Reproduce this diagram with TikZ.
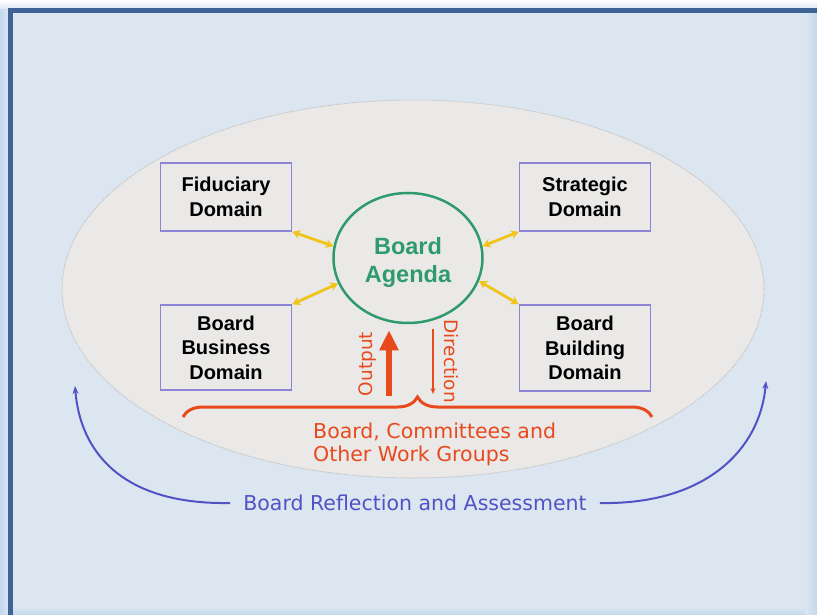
\documentclass[tikz,border=0pt]{standalone}
\usepackage{fontspec}
\setmainfont{Liberation Sans}
\newfontfamily\vfont{DejaVu Sans}
\usetikzlibrary{arrows.meta,shapes.geometric,decorations.pathreplacing}
\definecolor{framebg}{HTML}{DCE6F1}
\definecolor{frameline}{HTML}{3E6394}
\definecolor{glowblue}{HTML}{C3D8EE}
\definecolor{ovalfill}{HTML}{EAE9E7}
\definecolor{ovalline}{HTML}{C2C2C2}
\definecolor{boxline}{HTML}{8E84D6}
\definecolor{agendagreen}{HTML}{2F9A6C}
\definecolor{linkyellow}{HTML}{F0C419}
\definecolor{groupred}{HTML}{E8491D}
\definecolor{reflblue}{HTML}{5252C4}
\tikzset{
  domainbox/.style={draw=boxline, line width=1.5pt, minimum width=131pt, align=center,
    inner sep=0pt, font=\fontsize{20}{24.5}\selectfont\bfseries},
  link/.style={linkyellow, line width=2.8pt, {Stealth[length=8pt,width=9pt]}-{Stealth[length=8pt,width=9pt]}},
  redtext/.style={text=groupred, font=\vfont\fontsize{20.5}{23}\selectfont},
}
\begin{document}
\begin{tikzpicture}[x=1pt,y=-1pt]
 % frame and background
 \useasboundingbox (0,0) rectangle (817,615);
 \fill[framebg] (0,0) rectangle (817,615);
 \shade[left color=glowblue, right color=framebg] (0,0) rectangle (9,615);
 \shade[top color=white, bottom color=framebg] (0,0) rectangle (817,9);
 \shade[left color=framebg, right color=glowblue] (805,12) rectangle (817,615);
 \shade[top color=framebg, bottom color=glowblue] (12,607) rectangle (805,615);
 \draw[frameline, line width=5pt] (10.5,615) -- (10.5,10.5) -- (817,10.5);
 % the oval
 \draw[ovalline, fill=ovalfill, line width=1pt, densely dotted] (413,289) ellipse (351 and 189);

 % domains and agenda
 \node[domainbox, minimum height=68pt] (fid) at (226,197) {Fiduciary\\Domain};
 \node[domainbox, minimum height=68pt] (strat) at (585,197) {Strategic\\Domain};
 \node[domainbox, minimum height=85pt] (busi) at (226,347.5) {Board\\Business\\Domain};
 \node[domainbox, minimum height=86pt] (build) at (585,348) {Board\\Building\\Domain};
 \node[ellipse, draw=agendagreen, line width=2.5pt, minimum width=149pt, minimum height=130pt,
   inner sep=0pt] (agenda) at (408,258) {};
 \node[align=center, text=agendagreen, font=\fontsize{23.5}{28}\selectfont\bfseries]
   (agendalabel) at (408,262) {Board\\Agenda};

 \draw[link] (fid.south east) -- (agenda.171);
 \draw[link] (busi.north east) -- (agenda.200);
 \draw[link] (strat.south west) -- (agenda.9);
 \draw[link] (build.north west) -- (agenda.-18);

 % output and direction
 \coordinate (outbase) at (389,396);
 \coordinate (dirbase) at (433,394);
 \draw[groupred, line width=6pt, -{Triangle[length=20pt,width=18pt]}]
   (outbase) -- (agenda.south -| outbase) [shorten >=6pt];
 \draw[groupred, line width=1.2pt, -{Stealth[length=6pt,width=5pt]}]
   (agenda.south -| dirbase) [shorten <=5pt] -- (dirbase);
 \node[redtext, font=\vfont\fontsize{18.5}{22}\selectfont, rotate=90] (outlabel) at (368,364) {Output};
 \node[redtext, font=\vfont\fontsize{18.5}{22}\selectfont, rotate=-90] (dirlabel) at (451,361) {Direction};

 % groups
 \draw[groupred, line width=3pt, decorate, decoration={brace, amplitude=20pt}]
   (183,417) -- (652,417);
 \node[redtext, anchor=west, align=left, inner sep=0pt] (groups) at (313,444.5)
   {Board, Committees and\\Other Work Groups};

 % reflection
 \node[text=reflblue, font=\vfont\fontsize{20.5}{22}\selectfont, inner xsep=13pt] (refl) at (415,503)
   {Board Reflection and Assessment};
 \draw[reflblue, line width=2pt, -{Stealth[length=8pt,width=6pt]}]
   (refl.west) .. controls (120,505) and (80,450) .. (75,386);
 \draw[reflblue, line width=2pt, -{Stealth[length=8pt,width=6pt]}]
   (refl.east) .. controls (705,505) and (760,450) .. (766,381);
\end{tikzpicture}
\end{document}
